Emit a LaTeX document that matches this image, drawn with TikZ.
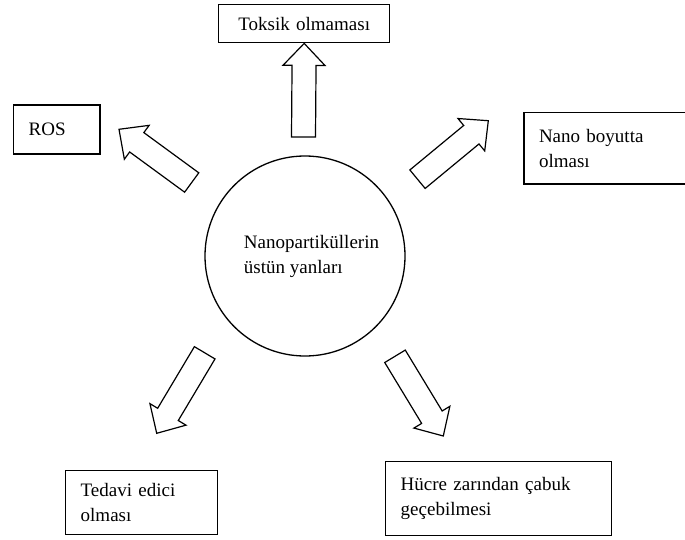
\documentclass[tikz,border=0pt]{standalone}
\usepackage{fontspec}
\setmainfont{Liberation Serif}
\usetikzlibrary{calc}
\tikzset{
  box/.style={draw, line width=1.4pt, rectangle, anchor=north west, inner xsep=15pt, inner ysep=0pt,
    font=\fontsize{19pt}{25.5pt}\selectfont},
  arrowline/.style={draw, line width=1.2pt, line join=miter, fill=white},
  hub/.style={circle, draw, line width=1.3pt, minimum size=200pt, inner sep=0pt, align=left,
    font=\fontsize{19pt}{25pt}\selectfont}
}
\newcommand\myblockarrow[2]{%
  \coordinate (hb) at ($(#2)!22pt!(#1)$);
  \draw[arrowline] ($(#1)!12pt!90:(#2)$) -- ($(hb)!12pt!90:(#2)$) -- ($(hb)!21pt!90:(#2)$) -- (#2)
    -- ($(hb)!21pt!-90:(#2)$) -- ($(hb)!12pt!-90:(#2)$) -- ($(#1)!12pt!-90:(#2)$) -- cycle;}
\begin{document}
\begin{tikzpicture}[x=1pt,y=-1pt]
\useasboundingbox (0,0) rectangle (685,540);
\clip (0,0) rectangle (685,540);
\fill[white] (0,0) rectangle (685,540);

\node[hub] (c) at (305,256) {\hspace*{13pt}Nanopartiküllerin\\\hspace*{13pt}üstün yanları};

\node[box, minimum width=171pt, minimum height=38pt, text width=141pt, align=center] (tok) at (218,4) {Toksik olmaması};
\node[box, minimum width=86.3pt, minimum height=49pt, text width=56.3pt, align=left] (ros) at (13,104.3) {ROS};
\node[box, minimum width=185pt, minimum height=71.3pt, text width=155pt, align=left] (nano) at (523.3,112) {Nano boyutta\\olması};
\node[box, minimum width=151.7pt, minimum height=64pt, text width=121.7pt, align=left] (ted) at (65,470) {Tedavi edici\\olması};
\node[box, minimum width=225.7pt, minimum height=74pt, text width=195.7pt, align=left] (huc) at (385,461) {Hücre zarından çabuk\\geçebilmesi};

\coordinate (a1s) at (303.5,137);
\coordinate (a2s) at (191.7,182.5);
\coordinate (a2t) at (119,129.3);
\coordinate (a3s) at (417.5,179.2);
\coordinate (a3t) at (488.3,120.7);
\coordinate (a4s) at (204.7,352.8);
\coordinate (a4t) at (156.7,433.3);
\coordinate (a5s) at (395,356.3);
\coordinate (a5t) at (443.3,436);

\myblockarrow{a1s}{tok.south}
\myblockarrow{a2s}{a2t}
\myblockarrow{a3s}{a3t}
\myblockarrow{a4s}{a4t}
\myblockarrow{a5s}{a5t}
\end{tikzpicture}
\end{document}
